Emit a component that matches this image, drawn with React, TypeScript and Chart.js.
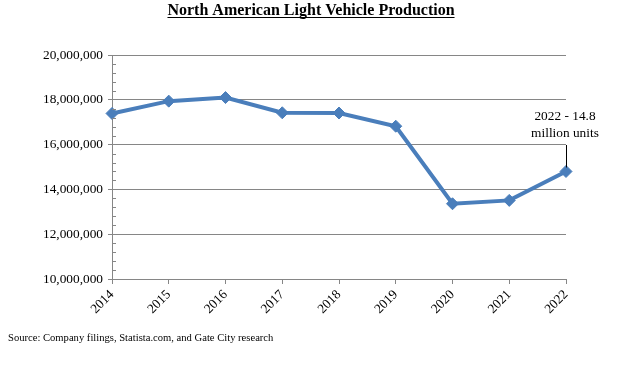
import React, { useEffect, useRef } from "react";
import { Chart, registerables } from "chart.js";

Chart.register(...registerables);

const years = ["2014", "2015", "2016", "2017", "2018", "2019", "2020", "2021", "2022"];
const production = [17390000, 17940000, 18100000, 17420000, 17410000, 16820000, 13360000, 13510000, 14800000];
const yMin = 10000000;
const yMax = 20000000;
const yStep = 2000000;
const yMinorStep = 400000;
const titleText = "North American Light Vehicle Production";
const sourceText = "Source: Company filings, Statista.com, and Gate City research";
const annotationLines = ["2022 - 14.8", "million units"];

const SERIF = "'Liberation Serif', 'Times New Roman', serif";
const GRID = "#868686";
const BLUE = "#4A7EBB";

const decorPlugin = {
  id: "decor",
  afterDraw(chart: any) {
    const ctx = chart.ctx;
    const y = chart.scales.y;
    const x = chart.scales.x;
    ctx.save();
    // minor ticks
    ctx.strokeStyle = GRID;
    ctx.lineWidth = 1;
    for (let v = yMin; v <= yMax; v += yMinorStep) {
      if (v % yStep === 0) continue;
      const py = Math.round(y.getPixelForValue(v)) + 0.5;
      ctx.beginPath();
      ctx.moveTo(x.left, py);
      ctx.lineTo(x.left + 4, py);
      ctx.stroke();
    }
    // title
    ctx.fillStyle = "#000";
    ctx.font = "bold 16px " + SERIF;
    ctx.textAlign = "center";
    ctx.textBaseline = "alphabetic";
    const cx = 311;
    ctx.fillText(titleText, cx, 15);
    const w = ctx.measureText(titleText).width;
    ctx.fillRect(cx - w / 2, 17, w, 1);
    // source
    ctx.font = "10.6px " + SERIF;
    ctx.textAlign = "left";
    ctx.fillText(sourceText, 8, 341);
    // annotation
    const last = production.length - 1;
    const px = x.getPixelForValue(last);
    const py = y.getPixelForValue(production[last]);
    ctx.font = "13.33px " + SERIF;
    ctx.textAlign = "center";
    ctx.fillText(annotationLines[0], px - 1, 120);
    ctx.fillText(annotationLines[1], px - 1, 137);
    ctx.strokeStyle = "#000";
    ctx.beginPath();
    ctx.moveTo(Math.round(px) + 0.5, 145);
    ctx.lineTo(Math.round(px) + 0.5, py - 4);
    ctx.stroke();
    ctx.restore();
  },
};

export default function App() {
  const ref = useRef<HTMLCanvasElement | null>(null);
  useEffect(() => {
    if (!ref.current) return;
    const chart = new Chart(ref.current, {
      type: "line",
      data: {
        labels: years,
        datasets: [
          {
            data: production,
            borderColor: BLUE,
            backgroundColor: BLUE,
            borderWidth: 4,
            pointStyle: "rectRot",
            pointRadius: 6,
            pointBorderWidth: 1,
            tension: 0,
          },
        ],
      },
      options: {
        responsive: false,
        animation: false,
        layout: { padding: { top: 55, right: 58, bottom: 54, left: 0 } },
        plugins: { legend: { display: false }, tooltip: { enabled: false }, title: { display: false } },
        scales: {
          x: {
            offset: false,
            afterFit: (s: any) => {
              s.height = 40;
            },
            grid: { drawOnChartArea: false, drawTicks: true, tickLength: 5, color: GRID },
            border: { color: GRID, width: 1 },
            ticks: {
              color: "#000",
              font: { family: SERIF, size: 13.33 },
              maxRotation: 45,
              minRotation: 45,
              padding: 3,
              autoSkip: false,
            },
          },
          y: {
            min: yMin,
            max: yMax,
            afterFit: (s: any) => {
              s.width = 112;
            },
            grid: { color: GRID, tickLength: 4, drawTicks: true },
            border: { color: GRID, width: 1 },
            ticks: {
              stepSize: yStep,
              color: "#000",
              padding: 5,
              font: { family: SERIF, size: 13.33 },
              callback: (v: any) => Number(v).toLocaleString("en-US"),
            },
          },
        },
      },
      plugins: [decorPlugin],
    });
    return () => chart.destroy();
  }, []);
  return (
    <div style={{ position: "absolute", left: 0, top: 0, width: 624, height: 373, background: "#fff" }}>
      <canvas ref={ref} width={624} height={373} style={{ display: "block" }} />
    </div>
  );
}
